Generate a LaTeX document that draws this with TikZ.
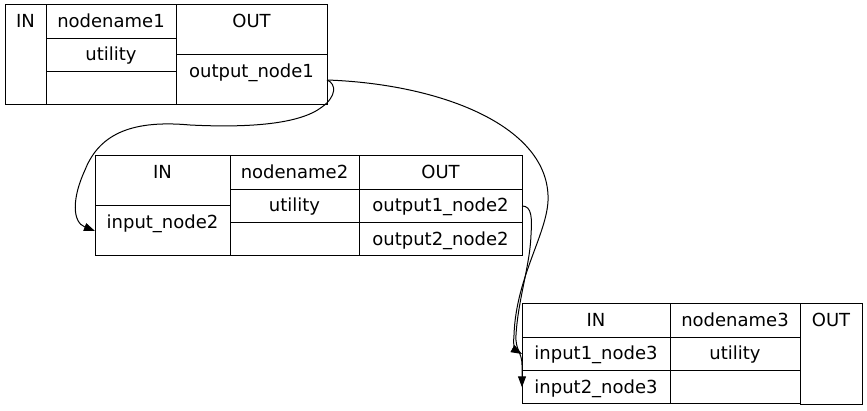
\documentclass[tikz,border=0pt]{standalone}
\usepackage{fontspec}
\setmainfont{DejaVu Sans}
\usetikzlibrary{arrows.meta, positioning}

\begin{document}
\begin{tikzpicture}[
    x=1pt, y=-1pt,
    font=\fontsize{18}{22}\selectfont,
    field/.style={draw, line width=1pt, anchor=north west, inner sep=0pt, outer sep=0pt, text height=14pt, minimum width=#1},
    row/.style={field=#1, minimum height=33.33pt, text depth=2.33pt},
    half/.style={field=#1, minimum height=50pt, text depth=19pt},
    tall/.style={field=#1, minimum height=100pt, text depth=69pt},
    arrow/.style={-{Triangle[length=11pt, width=8pt]}, line width=1pt}
]
\useasboundingbox (0,0) rectangle (867,411);
% first record
\node[tall=41pt] (n1in) at (5,5) {IN};
\node[row=130pt] (n1name) at (n1in.north east) {nodename1};
\node[row=130pt] (n1util) at (n1name.south west) {utility};
\node[row=130pt] (n1empty) at (n1util.south west) {};
\node[half=151pt] (n1out) at (n1name.north east) {OUT};
\node[half=151pt] (n1o1) at (n1out.south west) {output\_node1};
% second record
\node[half=135pt] (n2in) at (95,156) {IN};
\node[half=135pt] (n2i1) at (n2in.south west) {input\_node2};
\node[row=129pt] (n2name) at (n2in.north east) {nodename2};
\node[row=129pt] (n2util) at (n2name.south west) {utility};
\node[row=129pt] (n2empty) at (n2util.south west) {};
\node[row=163pt] (n2out) at (n2name.north east) {OUT};
\node[row=163pt] (n2o1) at (n2out.south west) {output1\_node2};
\node[row=163pt] (n2o2) at (n2o1.south west) {output2\_node2};
% third record
\node[row=148pt] (n3in) at (522,304) {IN};
\node[row=148pt] (n3i1) at (n3in.south west) {input1\_node3};
\node[row=148pt] (n3i2) at (n3i1.south west) {input2\_node3};
\node[row=130pt] (n3name) at (n3in.north east) {nodename3};
\node[row=130pt] (n3util) at (n3name.south west) {utility};
\node[row=130pt] (n3empty) at (n3util.south west) {};
\node[tall=62pt] (n3out) at (n3name.north east) {OUT};
% edges
\draw[arrow] (n1o1.east) .. controls (337,84) and (336,97) .. (322,107)
    .. controls (300,124) and (250,128) .. (190,125)
    .. controls (135,120) and (100,132) .. (85,170)
    .. controls (72,198) and (72,222) .. (n2i1.west);
\draw[arrow] (n1o1.east) .. controls (440,84) and (545,125) .. (548,195)
    .. controls (550,230) and (516,275) .. (514,335)
    .. controls (513,345) and (515,350) .. (n3i1.west);
\draw[arrow] (n2o1.east) .. controls (532,206) and (532,218) .. (531,235)
    .. controls (530,265) and (518,300) .. (516,335)
    .. controls (515,350) and (522,352) .. (522,365) -- (n3i2.west);
\end{tikzpicture}
\end{document}
